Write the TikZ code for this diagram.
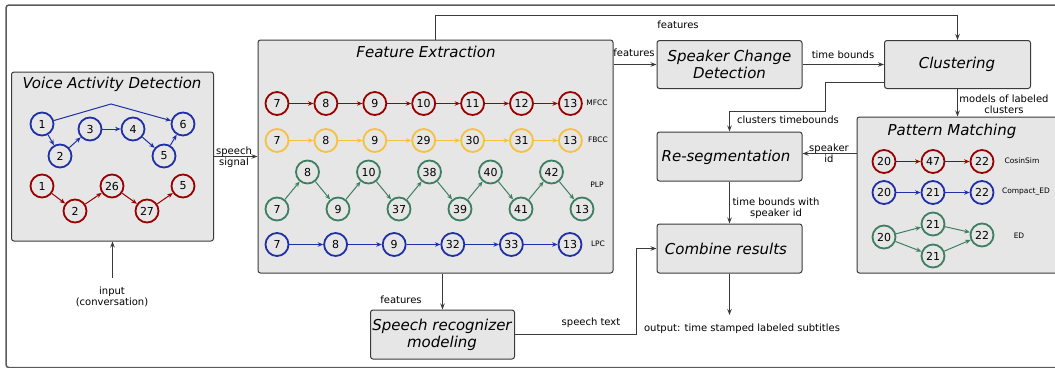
\documentclass[tikz,border=0pt]{standalone}
\usepackage{fontspec}
\setmainfont{DejaVu Sans}
\usetikzlibrary{arrows.meta,calc}
\definecolor{cred}{HTML}{990000}
\definecolor{cyel}{HTML}{F6C13E}
\definecolor{cgrn}{HTML}{3E7E62}
\definecolor{cblu}{HTML}{1F2FA5}
\definecolor{boxfill}{HTML}{E6E6E6}
\definecolor{boxline}{HTML}{3A3A3A}
\definecolor{frameline}{HTML}{5A5A5A}
\begin{document}
\begin{tikzpicture}[x=1pt,y=-1pt,
  box/.style={draw=boxline, fill=boxfill, line width=1pt, rounded corners=2.5pt, inner sep=0pt},
  ttl/.style={font=\fontsize{15}{17}\selectfont\itshape, align=center, inner sep=0pt},
  lbl/.style={font=\fontsize{10}{11}\selectfont, align=center, inner sep=0pt},
  rowlbl/.style={font=\fontsize{7.5}{8}\selectfont, inner sep=0pt},
  cn/.style={circle, line width=1.8pt, minimum size=23pt, inner sep=0pt, fill=boxfill, font=\fontsize{11}{12}\selectfont},
  cr/.style={cn, draw=cred},
  cy/.style={cn, draw=cyel},
  cg/.style={cn, draw=cgrn},
  cb/.style={cn, draw=cblu},
  flow/.style={draw=boxline, line width=1pt, -{Stealth[length=6pt,width=4.5pt]}},
  ce/.style={line width=1pt, -{Stealth[length=5.5pt,width=4.5pt]}},
]
\useasboundingbox (0,0) rectangle (1055,367);
\draw[draw=frameline, line width=1.5pt, rounded corners=3pt] (6,5) rectangle (1075,367.6);

% ---------- boxes ----------
\node[box, minimum width=202, minimum height=169] (vad) at (112.5,156.5) {};
\node[ttl] (vadt) at (112,84) {Voice Activity Detection};
\node[box, minimum width=355, minimum height=233] (fe) at (435.5,156.5) {};
\node[ttl] (fet) at (426,52) {Feature Extraction};
\node[box, minimum width=145, minimum height=48] (scd) at (729.5,64.5) {};
\node[ttl] (scdt) at (729.5,64.5) {Speaker Change\\Detection};
\node[box, minimum width=146, minimum height=48] (cl) at (957.5,64.5) {};
\node[ttl] (clt) at (957,64) {Clustering};
\node[box, minimum width=145, minimum height=49] (rs) at (729.5,156.5) {};
\node[ttl] (rst) at (726,157) {Re-segmentation};
\node[box, minimum width=145, minimum height=49] (cmb) at (729.5,248.5) {};
\node[ttl] (cmbt) at (726,248.5) {Combine results};
\node[box, minimum width=208, minimum height=156] (pm) at (961,195) {};
\node[ttl] (pmt) at (952,131) {Pattern Matching};
\node[box, minimum width=144, minimum height=49] (sr) at (442.5,334.5) {};
\node[ttl] (srt) at (442,335) {Speech recognizer\\modeling};

% ---------- VAD graphs ----------
\node[cb] (b1) at (42,124) {1};
\node[cb] (b2) at (60,156) {2};
\node[cb] (b3) at (90,129) {3};
\node[cb] (b4) at (133,129) {4};
\node[cb] (b5) at (164,156) {5};
\node[cb] (b6) at (183,124) {6};
\draw[ce, cblu] (b1) -- (b2);
\draw[ce, cblu] (b2) -- (b3);
\draw[ce, cblu] (b3) -- (b4);
\draw[ce, cblu] (b4) -- (b5);
\draw[ce, cblu] (b5) -- (b6);
\coordinate (bpk) at (111,104);
\draw[ce, cblu] (b1) -- (bpk) -- (b6);
\node[cr] (r1) at (42,186) {1};
\node[cr] (r2) at (75,211) {2};
\node[cr] (r3) at (112,186) {26};
\node[cr] (r4) at (147,211) {27};
\node[cr] (r5) at (183,186) {5};
\foreach \a/\b in {r1/r2,r2/r3,r3/r4,r4/r5} \draw[ce, cred] (\a) -- (\b);

% ---------- Feature extraction rows ----------
\foreach \v [count=\i] in {7,8,9,10,11,12,13}
  \node[cr] (m\i) at ({277+(\i-1)*48.9},103.5) {\v};
\foreach \i [evaluate=\i as \j using int(\i+1)] in {1,...,6} \draw[ce, cred] (m\i) -- (m\j);
\node[rowlbl] (mlab) at (597,103) {MFCC};

\foreach \v [count=\i] in {7,8,9,29,30,31,13}
  \node[cy] (f\i) at ({277+(\i-1)*48.9},140.5) {\v};
\foreach \i [evaluate=\i as \j using int(\i+1)] in {1,...,6} \draw[ce, cyel] (f\i) -- (f\j);
\node[rowlbl] (flab) at (598,140) {FBCC};

\foreach \v [count=\i] in {7,8,9,10,37,38,39,40,41,42,13}
  \node[cg] (p\i) at ({277+(\i-1)*30.5},{isodd(\i) ? 209 : 172}) {\v};
\foreach \i [evaluate=\i as \j using int(\i+1)] in {1,...,10} \draw[ce, cgrn] (p\i) -- (p\j);
\node[rowlbl] (plab) at (597,185) {PLP};

\foreach \v [count=\i] in {7,8,9,32,33,13}
  \node[cb] (l\i) at ({277+(\i-1)*58.6},244.5) {\v};
\foreach \i [evaluate=\i as \j using int(\i+1)] in {1,...,5} \draw[ce, cblu] (l\i) -- (l\j);
\node[rowlbl] (llab) at (598,244) {LPC};

% ---------- Pattern matching ----------
\node[cr] (c1) at (884,161.5) {20};
\node[cr] (c2) at (933,161.5) {47};
\node[cr] (c3) at (982,161.5) {22};
\draw[ce, cred] (c1) -- (c2);
\draw[ce, cred] (c2) -- (c3);
\node[rowlbl] (clab) at (1022,161) {CosinSim};
\node[cb] (d1) at (884,192.5) {20};
\node[cb] (d2) at (933,192.5) {21};
\node[cb] (d3) at (982,192.5) {22};
\draw[ce, cblu] (d1) -- (d2);
\draw[ce, cblu] (d2) -- (d3);
\node[rowlbl] (dlab) at (1026,192) {Compact\_ED};
\node[cg] (e1) at (884,237) {20};
\node[cg] (e2) at (933,224) {21};
\node[cg] (e3) at (933,256) {21};
\node[cg] (e4) at (982,235) {22};
\draw[ce, cgrn] (e1) -- (e2);
\draw[ce, cgrn] (e1) -- (e3);
\draw[ce, cgrn] (e2) -- (e4);
\draw[ce, cgrn] (e3) -- (e4);
\node[rowlbl] (elab) at (1019,236) {ED};

% ---------- connectors ----------
\coordinate (inp) at (112.5,278);
\draw[flow] (inp) -- (vad.south);
\node[lbl] (inpt) at (112,297) {input\\(conversation)};

\draw[flow] (vad.east) -- (fe.west);
\node[lbl] (sst) at (234,157) {speech\\signal};

\draw[flow] (fe.east |- scd.west) -- (scd.west);
\node[lbl] (ft1) at (634,53) {features};

\draw[flow] (fe.north) -- ++(0,-24) -| (cl.north);
\node[lbl] (ft2) at (678,25) {features};

\draw[flow] (scd.east) -- (cl.west);
\node[lbl] (tbt) at (843,55) {time bounds};

\coordinate (clo) at ($(cl.south west)+(0,-7)$);
\draw[flow] (clo) -- ++(-59,0) -- ++(0,29) -| (rs.north);
\node[lbl] (ctt) at (788,120) {clusters timebounds};

\draw[flow] (cl.south) -- (cl.south |- pm.north);
\node[lbl] (mct) at (1004,104) {models of labeled\\clusters};

\draw[flow] (pm.west |- 0,153.5) -- (rs.east |- 0,153.5);
\node[lbl] (sit) at (829,153.5) {speaker\\id};

\draw[flow] (rs.south) -- (cmb.north);
\node[lbl] (tst) at (776,208.5) {time bounds with\\speaker id};

\draw[flow] (fe.south -| sr.north) -- (sr.north);
\node[lbl] (ft3) at (401,300) {features};

\draw[flow] (sr.east) -- ++(121.5,0) |- (cmb.west);
\node[lbl] (stt) at (591,323) {speech text};

\coordinate (outp) at (729.5,315);
\draw[flow] (cmb.south) -- (outp);
\node[lbl] (outt) at (742,329) {output: time stamped labeled subtitles};
\end{tikzpicture}
\end{document}
